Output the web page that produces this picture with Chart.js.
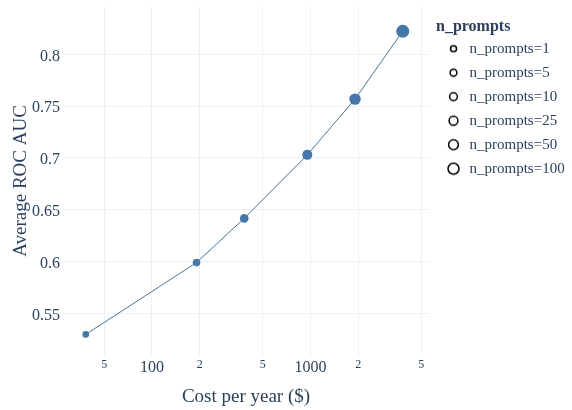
<!DOCTYPE html>
<html>
<head>
<meta charset="utf-8">
<script src="https://cdn.jsdelivr.net/npm/chart.js@4/dist/chart.umd.min.js"></script>
<style>
  html, body { margin: 0; padding: 0; background: #fff; }
  #wrap { width: 572px; height: 410px; }
</style>
</head>
<body>
<div id="wrap"><canvas id="chart"></canvas></div>
<script>
// ROC AUC vs yearly cost, one point per n_prompts setting

const nPrompts = [1, 5, 10, 25, 50, 100];
const costPerYear = [38.2, 191, 382, 955, 1910, 3820];
const avgRocAuc = [0.5297, 0.599, 0.6417, 0.703, 0.7568, 0.8223];

const xTickValues = [50, 100, 200, 500, 1000, 2000, 5000];
const xTickLabels = ['5', '100', '2', '5', '1000', '2', '5'];
const yTickValues = [0.55, 0.6, 0.65, 0.7, 0.75, 0.8];

const COLORS = {
  series: '#4477aa',
  text: '#2a3f5f',
  grid: '#ebf0f8',
  ring: '#000000',
};
const FONT = "'Liberation Serif', 'Times New Roman', serif";

const markerRadius = [3.3, 3.8, 4.3, 5, 5.7, 6.5];
const legendRadius = [3, 3.4, 3.9, 4.4, 4.9, 5.5];

// small open circle used as legend marker (odd size keeps it on whole pixels)
function makeRing(r) {
  let size = Math.ceil(2 * r + 4);
  if (size % 2 === 0) size += 1;
  const c = document.createElement('canvas');
  c.width = size; c.height = size;
  const g = c.getContext('2d');
  g.strokeStyle = COLORS.ring;
  g.lineWidth = 1.5;
  g.beginPath();
  g.arc(size / 2, size / 2, r, 0, Math.PI * 2);
  g.stroke();
  return c;
}

const pointSets = nPrompts.map((n, i) => ({
  type: 'scatter',
  label: `n_prompts=${n}`,
  data: [{ x: costPerYear[i], y: avgRocAuc[i] }],
  backgroundColor: COLORS.series,
  borderColor: COLORS.series,
  borderWidth: 0,
  pointRadius: markerRadius[i],
  pointHoverRadius: markerRadius[i],
  order: 1,
}));

const lineSet = {
  type: 'line',
  label: '',
  data: costPerYear.map((c, i) => ({ x: c, y: avgRocAuc[i] })),
  borderColor: COLORS.series,
  borderWidth: 1,
  pointRadius: 0,
  tension: 0,
  fill: false,
  order: 10,
};

new Chart(document.getElementById('chart'), {
  type: 'scatter',
  data: { datasets: [lineSet, ...pointSets] },
  options: {
    responsive: true,
    maintainAspectRatio: false,
    animation: false,
    layout: { padding: { top: 7, right: 0, bottom: 0, left: 0 } },
    plugins: {
      tooltip: { enabled: false },
      legend: {
        position: 'right',
        align: 'start',
        maxWidth: 136,
        title: {
          display: true,
          text: 'n_prompts',
          position: 'start',
          color: COLORS.text,
          font: { family: FONT, size: 16, weight: 'bold' },
          padding: { top: 12, bottom: -6 },
        },
        labels: {
          usePointStyle: true,
          pointStyleWidth: 17,
          padding: 9,
          color: COLORS.text,
          font: { family: FONT, size: 15 },
          generateLabels: chart => pointSets.map((ds, i) => ({
            text: ds.label,
            pointStyle: makeRing(legendRadius[i]),
            fontColor: COLORS.text,
            lineWidth: 0,
            hidden: false,
            datasetIndex: i + 1,
          })),
        },
      },
    },
    scales: {
      x: {
        type: 'logarithmic',
        min: 27.45,
        max: 5593,
        afterBuildTicks: s => { s.ticks = xTickValues.map(v => ({ value: v })); },
        afterFit: s => { s.height = 55; s.paddingLeft = 0; s.paddingRight = 0; },
        border: { display: false },
        grid: { color: COLORS.grid, drawTicks: false, lineWidth: 1 },
        ticks: {
          padding: 3,
          maxRotation: 0,
          autoSkip: false,
          color: COLORS.text,
          font: ctx => ({ family: FONT, size: (ctx.tick && (ctx.tick.value === 100 || ctx.tick.value === 1000)) ? 16 : 12 }),
          callback: (v, i) => xTickLabels[i],
        },
        title: {
          display: true,
          text: 'Cost per year ($)',
          color: COLORS.text,
          font: { family: FONT, size: 19 },
          padding: { top: 0, bottom: 2 },
        },
      },
      y: {
        type: 'linear',
        min: 0.5098,
        max: 0.8457,
        afterBuildTicks: s => { s.ticks = yTickValues.map(v => ({ value: v })); },
        afterFit: s => { s.width = 63; s.paddingTop = 0; s.paddingBottom = 0; },
        border: { display: false },
        grid: { color: COLORS.grid, drawTicks: false, lineWidth: 1 },
        ticks: {
          padding: 3,
          labelOffset: 2,
          color: COLORS.text,
          font: { family: FONT, size: 16 },
          callback: v => String(+v.toFixed(2)),
        },
        title: {
          display: true,
          text: 'Average ROC AUC',
          color: COLORS.text,
          font: { family: FONT, size: 19 },
          padding: { top: 10, bottom: 0 },
        },
      },
      // empty strip between plot and legend
      gap: {
        type: 'linear',
        position: 'right',
        display: true,
        border: { display: false },
        grid: { display: false, drawTicks: false },
        ticks: { display: false },
        afterFit: s => { s.width = 7; s.paddingTop = 0; s.paddingBottom = 0; },
      },
    },
  },
});
</script>
</body>
</html>
